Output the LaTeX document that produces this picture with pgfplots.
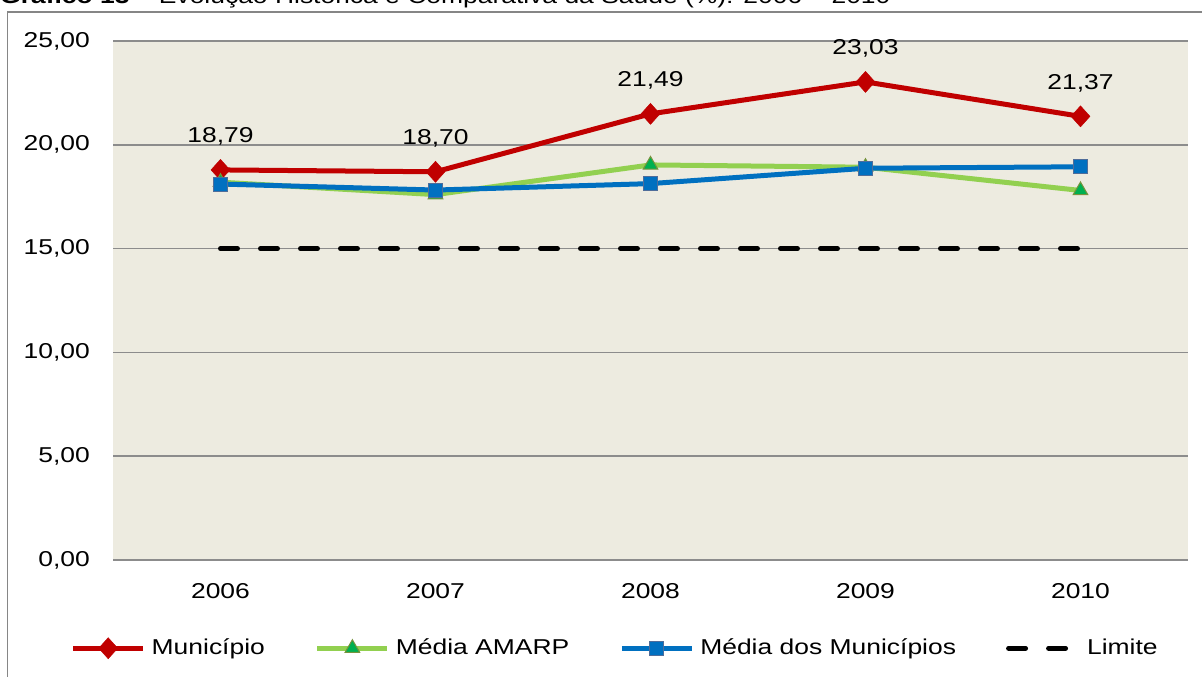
\documentclass[border=0pt]{standalone}
\usepackage{pgfplots}
\pgfplotsset{compat=1.18}
\usepackage{fontspec}
\setmainfont{Liberation Sans}[FakeStretch=1.23]
\definecolor{cRed}{HTML}{C00000}
\definecolor{cGreen}{HTML}{92D050}
\definecolor{cGreenMk}{HTML}{00B050}
\definecolor{cGreenEdge}{HTML}{77933C}
\definecolor{cBlue}{HTML}{0070C0}
\definecolor{cBlueEdge}{HTML}{4F6D9A}
\definecolor{cBg}{HTML}{EDEBE0}
\definecolor{cGrid}{HTML}{8C8C8C}
\definecolor{cFrame}{HTML}{868686}
\begin{document}
\fontsize{21.5}{25}\selectfont
\begin{tikzpicture}[x=1pt,y=1pt,font=\fontsize{21.5}{25}\selectfont]
\draw[color=cFrame, line width=1.5pt] (7.5,-20) rectangle (1230,665);
\node[anchor=base west, inner sep=0] at (0,673) {\textbf{Gráfico 13} – Evolução Histórica e Comparativa da Saúde (\%): 2006 – 2010};
\begin{axis}[
  at={(113pt,117pt)}, anchor=south west,
  scale only axis, width=1075pt, height=519pt,
  xmin=-0.5, xmax=4.5, ymin=0, ymax=25,
  xtick={0,1,2,3,4}, xticklabels={2006,2007,2008,2009,2010},
  ytick={0,5,10,15,20,25},
  axis background/.style={fill=cBg},
  axis line style={draw=none},
  tick style={draw=none}, major tick length=0pt,
  ymajorgrids, grid style={color=cGrid, line width=1.5pt},
  /pgf/number format/assume math mode=true,
  y tick label style={/pgf/number format/fixed, /pgf/number format/fixed zerofill, /pgf/number format/precision=2, /pgf/number format/use comma, anchor=east, inner sep=0pt, xshift=-23pt},
  x tick label style={anchor=north, inner sep=0pt, yshift=-23pt},
  clip=false,
  legend columns=4,
  legend style={at={(0.469,-0.17)}, anchor=center, draw=none, fill=none, inner sep=0pt,
    /tikz/every even column/.append style={column sep=44pt},
    nodes={inner xsep=6pt}},
  legend image code/.code={\draw[mark repeat=2,mark phase=2,#1] plot coordinates {(0pt,0pt) (35pt,0pt) (70pt,0pt)};},
]
\draw[color=cGrid, line width=1.5pt] (rel axis cs:0,0) -- (rel axis cs:1,0);
\addplot[color=cRed, line width=5pt, mark=diamond*, mark size=10.5pt, mark options={solid, fill=cRed, draw=cRed, line width=0.5pt, xscale=1.2},
  nodes near coords={\pgfmathprintnumber[fixed,fixed zerofill,precision=2,use comma,assume math mode=true]{\pgfplotspointmeta}},
  every node near coord/.append style={anchor=base, inner sep=0pt, yshift=27pt, text=black}]
  coordinates {(0,18.79) (1,18.70) (2,21.49) (3,23.03) (4,21.37)};
\addlegendentry{Município}
\addplot[color=cGreen, line width=5pt, mark=triangle*, mark size=8.5pt, mark options={solid, fill=cGreenMk, draw=cGreenEdge, line width=1pt}]
  coordinates {(0,18.20) (1,17.60) (2,19.03) (3,18.92) (4,17.80)};
\addlegendentry{Média AMARP}
\addplot[color=cBlue, line width=5pt, mark=square*, mark size=7pt, mark options={solid, fill=cBlue, draw=cBlueEdge, line width=1pt}]
  coordinates {(0,18.11) (1,17.82) (2,18.13) (3,18.87) (4,18.94)};
\addlegendentry{Média dos Municípios}
\addplot[color=black, line width=5pt, line cap=round, dash pattern=on 17pt off 23pt]
  coordinates {(0,15) (1,15) (2,15) (3,15) (4,15)};
\addlegendentry{Limite}
\end{axis}
\pgfresetboundingbox
\useasboundingbox (0,0) rectangle (1202,677);
\end{tikzpicture}
\end{document}
